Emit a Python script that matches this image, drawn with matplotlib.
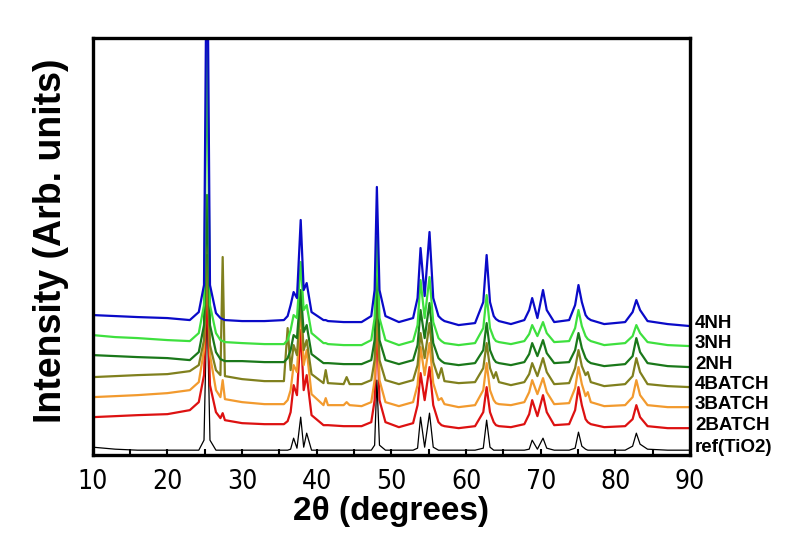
import matplotlib
matplotlib.use("Agg")
import matplotlib.pyplot as plt
import matplotlib.transforms as mtransforms

# 2-theta grid shared by all patterns (degrees)
two_theta = [10, 13, 16, 20, 23, 24.2, 24.9, 25.3, 25.7, 26.5,
             27.1, 27.4, 27.7, 30, 33, 35.6, 36.1, 36.5, 36.9, 37.35,
             37.85, 38.25, 38.65, 39.3, 40.9, 41.2, 41.5, 43.6, 44.0, 44.4,
             46, 47.3, 47.75, 48.05, 48.4, 49.2, 51, 52.9, 53.5, 53.9,
             54.45, 55.1, 55.6, 56.3, 56.7, 57.1, 59, 61.2, 62.3, 62.75,
             63.2, 63.7, 64.0, 64.4, 66, 67.8, 68.45, 68.85, 69.55, 70.3,
             70.8, 71.8, 73.8, 74.6, 75.05, 75.5, 76.0, 76.3, 76.7, 78.5,
             81.3, 82.3, 82.8, 83.3, 84.3, 87, 90]

# intensities (arb. units, already offset as in the stacked plot)
int_4nh = [140, 139, 138, 137, 135, 143, 170, 560, 170, 142,
           137, 136, 135, 134, 134, 135, 139, 150, 163, 157,
           235, 165, 172, 143, 135, 135, 134, 133, 133, 133,
           133, 139, 165, 268, 165, 139, 133, 137, 157, 207,
           159, 223, 157, 139, 136, 134, 130, 132, 153, 200,
           153, 139, 136, 134, 131, 135, 145, 157, 137, 165,
           145, 133, 135, 150, 170, 153, 140, 137, 135, 131,
           133, 143, 155, 145, 134, 131, 129]
int_3nh = [120, 118, 117, 115, 114, 122, 150, 420, 150, 122,
           115, 114, 113, 112, 111, 111, 115, 125, 140, 137,
           193, 145, 150, 122, 112, 112, 111, 110, 110, 110,
           110, 115, 137, 218, 137, 115, 110, 114, 130, 175,
           137, 178, 133, 117, 114, 112, 110, 112, 127, 160,
           127, 117, 114, 113, 111, 114, 121, 130, 119, 133,
           122, 113, 114, 127, 145, 129, 119, 116, 114, 110,
           112, 119, 130, 122, 113, 110, 109]
int_2nh = [100, 99, 98, 97, 95, 103, 130, 260, 130, 103,
           96, 95, 94, 94, 93, 93, 97, 105, 120, 117,
           165, 123, 130, 101, 92, 92, 92, 91, 91, 91,
           91, 95, 115, 193, 115, 95, 91, 95, 110, 145,
           117, 152, 112, 97, 94, 92, 90, 92, 105, 132,
           105, 96, 93, 92, 90, 93, 101, 112, 99, 115,
           102, 92, 93, 105, 122, 107, 97, 94, 92, 89,
           91, 99, 117, 103, 92, 89, 88]
int_4batch = [78, 79, 80, 81, 84, 90, 115, 200, 110, 85,
              80, 198, 79, 76, 74, 74, 127, 85, 110, 100,
              155, 105, 115, 81, 72, 85, 72, 71, 78, 71,
              71, 75, 95, 170, 95, 75, 71, 75, 90, 122,
              97, 132, 93, 77, 87, 74, 72, 73, 87, 112,
              87, 77, 83, 73, 70, 73, 81, 92, 79, 97,
              83, 71, 72, 87, 105, 89, 80, 83, 73, 69,
              71, 79, 97, 83, 71, 69, 68]
int_3batch = [58, 59, 60, 62, 65, 73, 105, 215, 100, 65,
              58, 75, 56, 53, 51, 51, 55, 65, 90, 83,
              150, 90, 105, 61, 50, 57, 50, 50, 53, 50,
              49, 53, 75, 175, 75, 53, 49, 53, 70, 108,
              80, 112, 72, 55, 57, 51, 48, 50, 65, 92,
              65, 55, 52, 51, 50, 53, 63, 75, 61, 77,
              63, 51, 52, 67, 88, 71, 59, 63, 53, 49,
              50, 58, 75, 60, 50, 48, 48]
int_2batch = [38, 39, 40, 41, 45, 53, 80, 165, 70, 43,
              37, 42, 35, 32, 31, 31, 34, 43, 70, 60,
              125, 65, 80, 40, 30, 30, 30, 29, 29, 29,
              29, 33, 55, 140, 55, 33, 28, 32, 50, 82,
              55, 88, 50, 33, 30, 29, 27, 29, 43, 68,
              43, 33, 30, 29, 28, 31, 41, 55, 39, 60,
              43, 30, 31, 45, 68, 50, 36, 33, 31, 28,
              29, 36, 50, 38, 29, 27, 27]
int_ref = [8, 6, 5, 5, 5, 5, 15, 155, 15, 5,
           5, 5, 5, 5, 5, 5, 5, 6, 17, 7,
           38, 8, 22, 5, 5, 5, 5, 5, 5, 5,
           5, 5, 10, 75, 10, 5, 5, 5, 7, 38,
           8, 42, 8, 5, 5, 5, 5, 5, 7, 35,
           8, 5, 5, 5, 5, 5, 6, 15, 6, 17,
           7, 5, 5, 7, 23, 9, 6, 5, 5, 5,
           5, 9, 22, 11, 6, 5, 5]

sample_names = ["ref(TiO2)", "2BATCH", "3BATCH", "4BATCH", "2NH", "3NH", "4NH"]
sample_data = [int_ref, int_2batch, int_3batch, int_4batch, int_2nh, int_3nh, int_4nh]
colors = ["black", "#dd1111", "#f29a2e", "#80801e", "#1a781a", "#3ee03e", "#0a0ac8"]
widths = [0.9, 1.6, 1.6, 1.6, 1.6, 1.6, 1.6]

fig = plt.figure(figsize=(7.86, 5.33), dpi=100)
ax = fig.add_axes([0.118, 0.146, 0.760, 0.783])

for name, ys, c, lw in zip(sample_names, sample_data, colors, widths):
    ax.plot(two_theta, ys, color=c, lw=lw)

ax.set_xlim(10, 90)
ax.set_ylim(0, 417)
ax.set_yticks([])
ax.set_xticks(range(10, 91, 10))
ax.set_xticks(range(15, 90, 10), minor=True)
ax.tick_params(axis="x", which="both", direction="in", length=4, width=1.5,
               pad=10, labelsize=19)
for lab in ax.get_xticklabels():
    lab.set_fontfamily("DejaVu Sans")
    lab.set_fontstretch("condensed")
for sp in ax.spines.values():
    sp.set_linewidth(2.4)

# sample labels on the right, next to the end of each trace
trans = mtransforms.blended_transform_factory(ax.transAxes, ax.transData)
for name, ys in zip(sample_names, sample_data):
    ax.text(1.008, ys[-1] + 3, name, transform=trans, ha="left", va="center",
            fontsize=13.5, fontweight="bold", family="Liberation Sans",
            clip_on=False)

ax.set_xlabel("2\u03b8 (degrees)", fontsize=24, fontweight="bold",
              family="Liberation Sans", labelpad=1)
ax.set_ylabel("Intensity (Arb. units)", fontsize=27, fontweight="bold",
              family="Liberation Sans")
ax.yaxis.set_label_coords(-0.040, 0.515)

fig.savefig("out.png", dpi=100)
